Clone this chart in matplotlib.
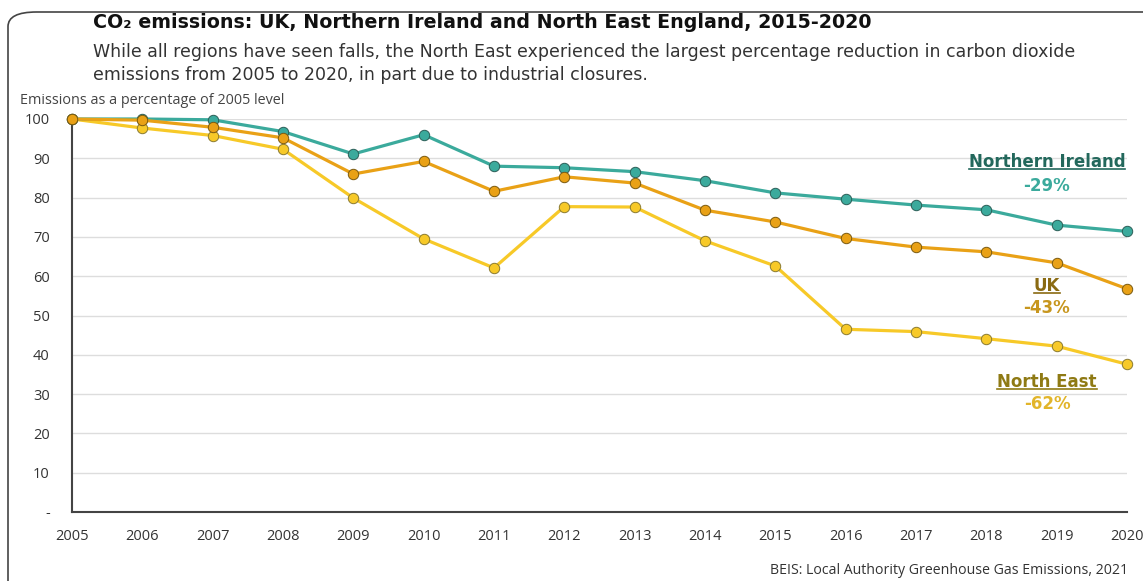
import matplotlib
matplotlib.use("Agg")
import matplotlib.pyplot as plt
from matplotlib.patches import FancyBboxPatch
from matplotlib.lines import Line2D

years = list(range(2005, 2021))
northern_ireland = [100, 100, 99.8, 96.8, 91.1, 96.0, 88.0, 87.6, 86.6, 84.3, 81.2, 79.6, 78.1, 76.9, 73.0, 71.4]
uk = [100, 99.7, 97.9, 95.2, 86.0, 89.2, 81.6, 85.3, 83.7, 76.8, 73.8, 69.6, 67.4, 66.2, 63.4, 56.8]
north_east = [100, 97.7, 95.8, 92.3, 79.9, 69.5, 62.1, 77.7, 77.6, 69.0, 62.6, 46.5, 45.9, 44.1, 42.2, 37.6]
y_ticks = [0, 10, 20, 30, 40, 50, 60, 70, 80, 90, 100]
y_tick_labels = ["-", "10", "20", "30", "40", "50", "60", "70", "80", "90", "100"]
series_names = ["Northern Ireland", "UK", "North East"]
series_changes = ["-29%", "-43%", "-62%"]

plt.rcParams['font.family'] = ['Open Sans', 'DejaVu Sans']

W, H = 1143, 581
fig = plt.figure(figsize=(W / 100, H / 100), dpi=100)
fig.patch.set_facecolor("white")
renderer = fig.canvas.get_renderer()


def fit_width(t, target_px):
    bb = t.get_window_extent(renderer)
    t.set_fontsize(t.get_fontsize() * target_px / bb.width)


# rounded frame
frame = FancyBboxPatch((8 / W, -0.2), 1.2, (H - 12) / H + 0.2,
                       boxstyle="round,pad=0,rounding_size=0.025",
                       transform=fig.transFigure, facecolor="none",
                       edgecolor="#444444", linewidth=1.2, zorder=0)
fig.patches.append(frame)

ax = fig.add_axes([72 / W, (H - 512) / H, (1127 - 72) / W, (512 - 119) / H])
ax.set_xlim(2005, 2020)
ax.set_ylim(0, 100)

teal = "#3BAA9C"
orange = "#E9A116"
yellow = "#F7C928"

ax.plot(years, north_east, color=yellow, lw=2.3, marker="o", ms=7.5,
        mfc=yellow, mec="#8a7a30", mew=0.7, zorder=3, clip_on=False)
ax.plot(years, northern_ireland, color=teal, lw=2.3, marker="o", ms=7.5,
        mfc=teal, mec="#2b5e57", mew=0.7, zorder=4, clip_on=False)
ax.plot(years, uk, color=orange, lw=2.3, marker="o", ms=7.5,
        mfc=orange, mec="#7a5a10", mew=0.7, zorder=5, clip_on=False)

ax.set_yticks(y_ticks)
ax.set_yticklabels(y_tick_labels)
ax.set_xticks(years)
ax.set_xticklabels([str(y) for y in years])
ax.tick_params(axis="both", length=0, labelsize=10.5, colors="#333333")
ax.tick_params(axis="y", pad=16)
ax.tick_params(axis="x", pad=12)
ax.grid(axis="y", color="#dddddd", lw=1)
ax.set_axisbelow(True)
for s in ["top", "right"]:
    ax.spines[s].set_visible(False)
for s in ["left", "bottom"]:
    ax.spines[s].set_color("#444444")
    ax.spines[s].set_linewidth(1.5)

# titles
t_title = fig.text(93 / W, 1 - 22 / H, "CO₂ emissions: UK, Northern Ireland and North East England, 2015-2020",
                   fontsize=12.5, fontweight="bold", color="#111111", va="center", ha="left",
                   family="DejaVu Sans")
fit_width(t_title, 777)
t_sub1 = fig.text(93 / W, 1 - 52 / H,
                  "While all regions have seen falls, the North East experienced the largest percentage reduction in carbon dioxide",
                  fontsize=11.5, color="#333333", va="center", ha="left", family="DejaVu Sans")
fit_width(t_sub1, 984)
fig.text(93 / W, 1 - 75 / H,
         "emissions from 2005 to 2020, in part due to industrial closures.",
         fontsize=t_sub1.get_fontsize(), color="#333333", va="center", ha="left", family="DejaVu Sans")
t_ylab = fig.text(20 / W, 1 - 100 / H, "Emissions as a percentage of 2005 level",
                  fontsize=7.8, color="#444444", va="center", ha="left")
fit_width(t_ylab, 265)
t_src = fig.text(1128 / W, 1 - 570 / H, "BEIS: Local Authority Greenhouse Gas Emissions, 2021",
                 fontsize=8.3, color="#333333", va="center", ha="right")
fit_width(t_src, 356)

# series labels
name_colors = ["#23685C", "#8A6A12", "#8F7A14"]
pct_colors = [teal, "#C7961E", "#E2B52A"]
name_base = [167, 291, 387]
pct_base = [191, 313, 409]
cx = 1047 / W
name_texts = []
for i, (name, chg, nc, pc) in enumerate(zip(series_names, series_changes, name_colors, pct_colors)):
    t = fig.text(cx, 1 - name_base[i] / H, name, fontsize=11, fontweight="bold", color=nc,
                 va="baseline", ha="center", family="DejaVu Sans")
    if i == 0:
        fit_width(t, 156)
    name_texts.append((t, nc, name_base[i]))
    fig.text(cx, 1 - pct_base[i] / H, chg, fontsize=name_texts[0][0].get_fontsize(),
             fontweight="bold", color=pc, va="baseline", ha="center", family="DejaVu Sans")
for t, c, b in name_texts:
    t.set_fontsize(name_texts[0][0].get_fontsize())

for t, c, b in name_texts:
    bb = t.get_window_extent(renderer)
    x0, x1 = bb.x0 / W, bb.x1 / W
    yb = 1 - (b + 2) / H
    fig.add_artist(Line2D([x0, x1], [yb, yb], transform=fig.transFigure, color=c, lw=1.2))

fig.savefig("out.png", dpi=100, facecolor="white")
